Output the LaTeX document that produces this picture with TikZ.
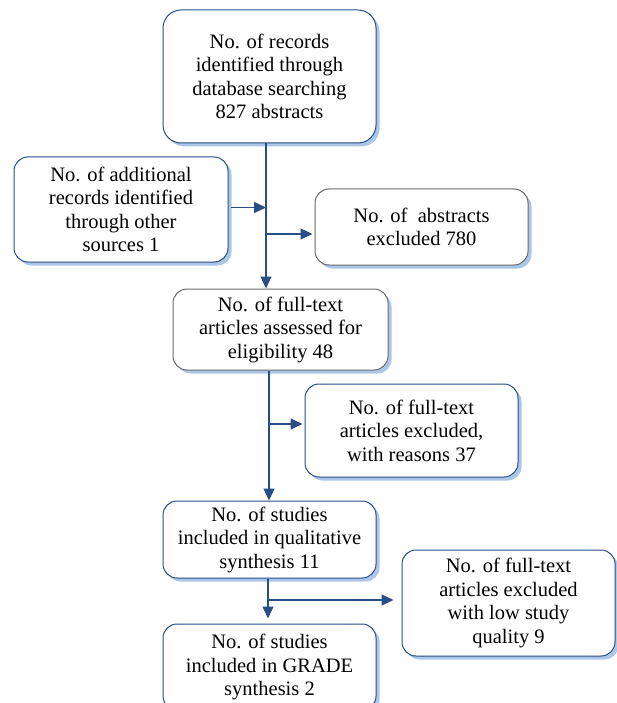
\documentclass[tikz,border=0pt]{standalone}
\usepackage{fontspec}
\setmainfont{Liberation Serif}
\usetikzlibrary{arrows.meta,shadows}
\definecolor{boxblue}{RGB}{41,77,135}
\definecolor{boxgray}{RGB}{105,105,105}
\definecolor{shadeblue}{RGB}{172,198,232}

\begin{document}
\begin{tikzpicture}[x=1pt,y=-1pt,semithick]
  \tikzstyle{every node}=[font=\fontsize{20.5}{23.5}\selectfont]
  \tikzstyle{box}=[draw=boxblue,fill=white,line width=1pt,rounded corners=14pt,align=center,
    inner sep=0pt,minimum width=213pt,
    drop shadow={fill=shadeblue,opacity=1,shadow xshift=3.5pt,shadow yshift=-3.5pt}]
  \tikzstyle{greybox}=[box,draw=boxgray]
  \tikzstyle{flow}=[-{Triangle[length=12pt,width=11pt]},draw=boxblue,fill=boxblue,line width=1.2pt]

  \useasboundingbox (0,0) rectangle (617,703);

  \node[box,rounded corners=18pt,minimum height=133pt] (rec) at (269.5,76.5)
    {No. of records\\identified through\\database searching\\827 abstracts};
  \node[box,minimum width=214pt,minimum height=105pt] (add) at (121,209.5)
    {No. of additional\\records identified\\through other\\sources 1};
  \node[greybox,minimum height=76pt] (abs) at (421.5,227)
    {No. of\ \ abstracts\\excluded 780};
  \node[greybox,minimum width=215pt,minimum height=81pt] (elig) at (280.5,329.5)
    {No. of full-text\\articles assessed for\\eligibility 48};
  \node[box,minimum height=93pt] (reas) at (411.5,430.5)
    {No. of full-text\\articles excluded,\\with reasons 37};
  \node[box,minimum height=77pt] (qual) at (269.5,539.5)
    {No. of studies\\included in qualitative\\synthesis 11};
  \node[box,minimum height=106pt] (low) at (508.5,603)
    {No. of full-text\\articles excluded\\with low study\\quality 9};
  \node[box,minimum height=86pt] (grade) at (269.5,667)
    {No. of studies\\included in GRADE\\synthesis 2};

  % trunks and branch points
  \coordinate (t1) at (266,0);
  \coordinate (t2) at (269,0);
  \coordinate (t3) at (268,0);
  \coordinate (b1) at (266,234);
  \coordinate (b2) at (269,424);
  \coordinate (b3) at (268,600);

  \draw[flow] (rec.south -| t1) -- (elig.north -| t1);
  \draw[flow] ([xshift=2pt,yshift=2pt]add.east) -- ([yshift=2pt]add.east -| t1);
  \draw[flow] (b1) -- ([xshift=-2pt]b1 -| abs.west);
  \draw[flow] (elig.south -| t2) -- (qual.north -| t2);
  \draw[flow] (b2) -- ([xshift=-2pt]b2 -| reas.west);
  \draw[flow] (qual.south -| t3) -- ([yshift=5pt]grade.north -| t3);
  \draw[flow] (b3) -- ([xshift=-8pt]b3 -| low.west);

\end{tikzpicture}
\end{document}
